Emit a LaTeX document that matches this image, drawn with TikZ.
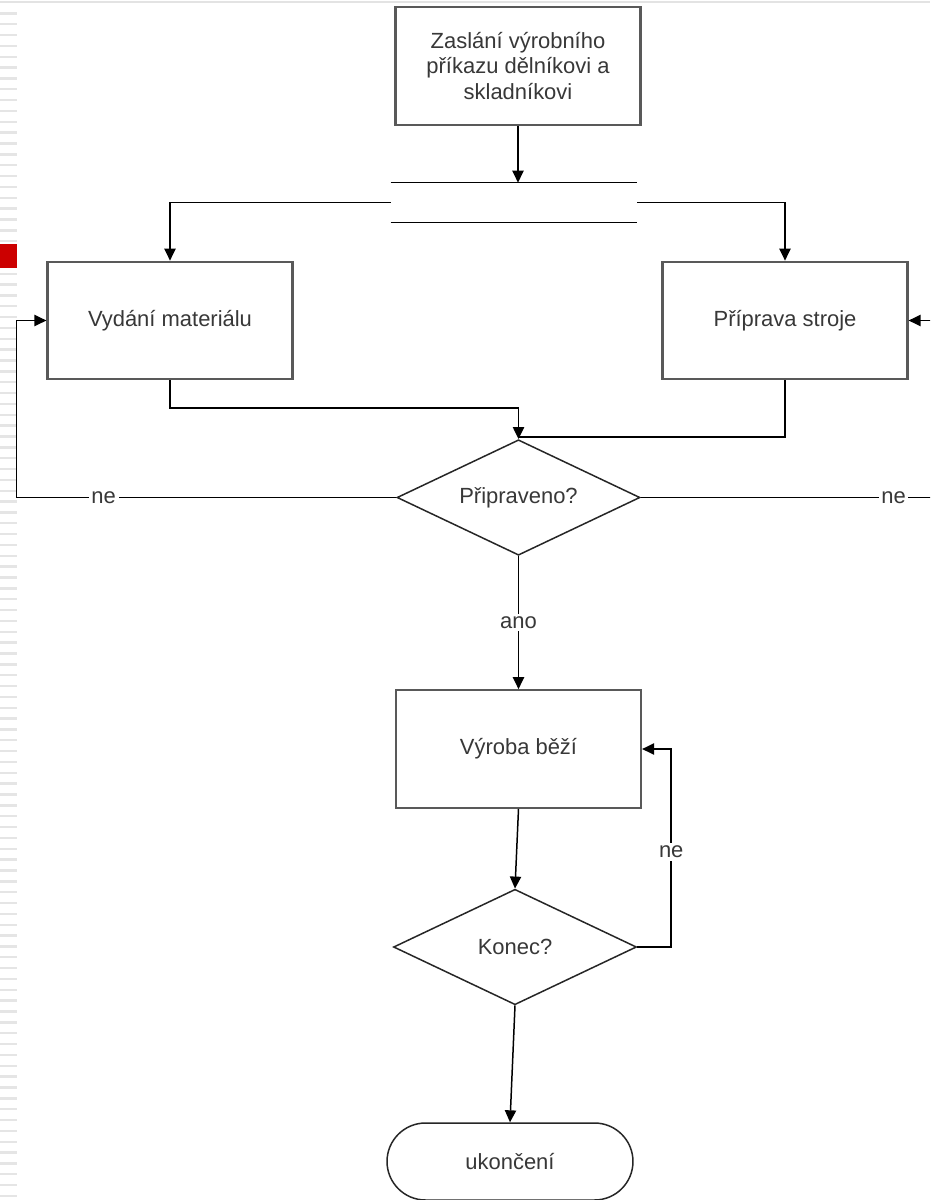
\documentclass[tikz,border=0pt]{standalone}
\usepackage{fontspec}
\setmainfont{Liberation Sans}
\usetikzlibrary{arrows.meta,shapes.geometric}

\begin{document}
\begin{tikzpicture}[x=0.02cm,y=-0.02cm,
  font=\fontsize{12.5}{14.3}\selectfont,
  box/.style={draw=black!65, line width=1.3pt, minimum width=4.9cm,
    minimum height=2.35cm, align=center, text=black!78, inner sep=0pt},
  decision/.style={diamond, shape aspect=2.11, draw=black!85, line width=0.85pt,
    minimum width=4.86cm, minimum height=2.31cm, inner sep=0pt, text=black!78},
  terminal/.style={draw=black!85, line width=0.85pt, rounded corners=0.77cm,
    minimum width=4.92cm, minimum height=1.54cm, inner sep=0pt, text=black!78},
  con/.style={draw=black, line width=0.85pt, -{Triangle[length=6.8pt,width=6.4pt]}},
  plain/.style={draw=black, line width=0.85pt},
  lab/.style={fill=white, inner sep=1.5pt, text=black!78},
]
\useasboundingbox (0,0) rectangle (930,1200);
\clip (0,0) rectangle (930,1200);

% slide margin decoration
\fill[white] (0,0) rectangle (930,1200);
\draw[gray!22, line width=1.3pt] (0,2) -- (930,2);
\foreach \k in {0,...,109}
  \fill[gray!20] (0,{13.3+10.85*\k-1.2}) rectangle (17,{13.3+10.85*\k+1.2});
\fill[red!80!black] (0,244) rectangle (17,268);

% nodes
\node[box] (top) at (518,66) {Zaslání výrobního\\příkazu dělníkovi a\\skladníkovi};
\node[minimum width=4.92cm, minimum height=0.78cm, inner sep=0pt] (bar) at (514,202.5) {};
\draw[plain] (bar.north west) -- (bar.north east);
\draw[plain] (bar.south west) -- (bar.south east);
\node[box] (mat) at (170,320.5) {Vydání materiálu};
\node[box] (stroj) at (785,320.5) {Příprava stroje};
\node[decision] (ready) at (518.5,497.5) {Připraveno?};
\node[box] (run) at (518.5,749) {Výroba běží};
\node[decision] (stop) at (515,947) {Konec?};
\node[terminal] (end) at (510,1161.5) {ukončení};
\coordinate (mjoin) at (518.5,408);
\coordinate (sjoin) at (518.5,437);

% connectors
\draw[con] (top.south) -- (top.south |- bar.north);
\draw[con] (bar.west) -| (mat.north);
\draw[con] (bar.east) -| (stroj.north);
\draw[plain] (mat.south) |- (mjoin);
\draw[plain] (stroj.south) |- (sjoin);
\draw[con] (mjoin) -- (ready.north);
\draw[con] (ready.west) -- node[lab, pos=0.77] {ne} ++(-380,0) |- (mat.west);
\draw[con] (ready.east) -- node[lab, pos=0.79] {ne} ++(320,0) |- (stroj.east);
\draw[con] (ready.south) -- node[lab] {ano} (run.north);
\draw[con] (run.south) -- (stop.north);
\draw[con] (stop.east) -- ++(34,0) |- node[lab, pos=0.24] {ne} (run.east);
\draw[con] (stop.south) -- (end.north);
\end{tikzpicture}
\end{document}
